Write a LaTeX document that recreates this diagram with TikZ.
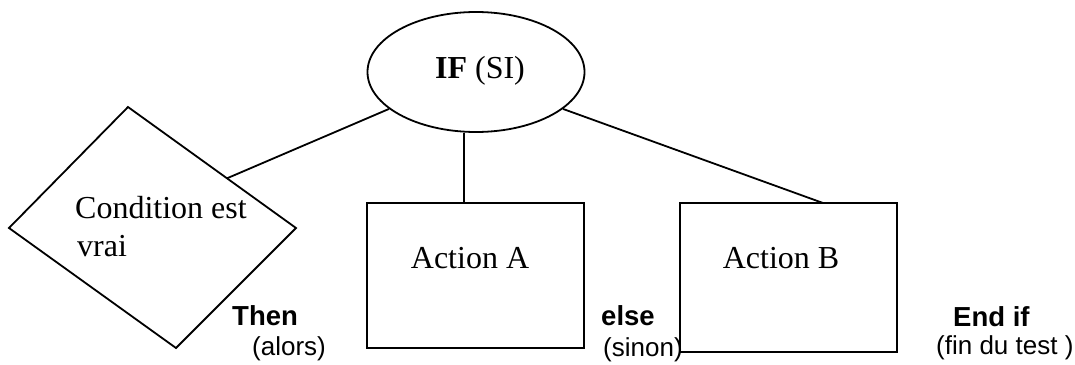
\documentclass[tikz,border=0pt]{standalone}
\usepackage{fontspec}
\setmainfont{Liberation Serif}
\newfontfamily\lsans{Liberation Sans}
\usetikzlibrary{shapes.geometric}
\begin{document}
\begin{tikzpicture}[x=1pt,y=-1pt,
  shapeline/.style={draw=black,line width=1.8pt},
  conn/.style={draw=black,line width=1.8pt},
  serif32/.style={font=\fontsize{32}{38}\selectfont,inner sep=0pt},
  lab/.style={font=\lsans\fontsize{27.5}{30}\selectfont\bfseries,inner sep=0pt,anchor=base west},
  sublab/.style={font=\lsans\fontsize{26}{30}\selectfont,inner sep=0pt,anchor=base west}]
\useasboundingbox (0,0) rectangle (1075,364);
% ellipse
\node[shapeline,ellipse,minimum width=217pt,minimum height=120pt,inner sep=0pt] (if) at (476,72) {};
\node[serif32,anchor=base] (iftxt) at (480,78) {\textbf{IF} (SI)};
% diamond (drawn directly)
\coordinate (dT) at (128,107);
\coordinate (dR) at (296,228);
\coordinate (dB) at (176,348);
\coordinate (dL) at (9,228);
\draw[shapeline,line join=miter] (dT) -- (dR) -- (dB) -- (dL) -- cycle;
\coordinate (dC) at (227,178.3);
\node[serif32,anchor=base west] (cond1) at (75,218) {Condition est};
\node[serif32,anchor=base west] (cond2) at (77,256) {vrai};
% boxes
\node[shapeline,rectangle,minimum width=217pt,minimum height=145pt,inner sep=0pt] (boxA) at (475.5,275.5) {};
\node[serif32,anchor=base] (atxt) at (470,268) {Action A};
\node[shapeline,rectangle,minimum width=217pt,minimum height=149pt,inner sep=0pt] (boxB) at (788.5,277.5) {};
\node[serif32,anchor=base] (btxt) at (781,268) {Action B};
\coordinate (aTop) at (464,203);
\coordinate (bTop) at (823,203);
% connectors
\draw[conn] (if.203) -- (dC);
\draw[conn] (if.south -| aTop) -- (aTop);
\draw[conn] (if.337) -- (bTop);
% labels
\node[lab] (then) at (232,325) {Then};
\node[sublab] (alors) at (252,355) {(alors)};
\node[lab] (else) at (601,325) {else};
\node[sublab] (sinon) at (603,356) {(sinon)};
\node[lab] (endif) at (953,326) {End if};
\node[sublab] (fin) at (936,354) {(fin du test )};
\end{tikzpicture}
\end{document}
